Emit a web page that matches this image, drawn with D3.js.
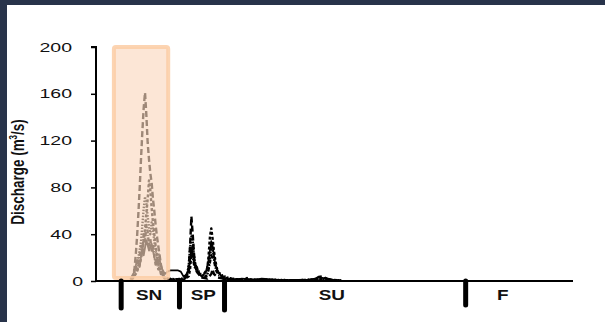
<!DOCTYPE html>
<html>
<head>
<meta charset="utf-8">
<script src="https://cdn.jsdelivr.net/npm/d3@7"></script>
<style>
  html, body { margin: 0; padding: 0; background: #28334a; }
  svg { display: block; }
</style>
</head>
<body>
<svg id="chart" width="605" height="322"></svg>
<script>
// Daily discharge, several hydrographs (day of water year, m³/s)
const daysA = [26, 28, 29, 30, 31, 32, 33, 34, 35, 36, 37, 38, 39, 40, 41, 42, 43, 44, 45, 46, 47, 48, 49, 50, 51, 52, 55, 60, 65, 68, 70, 71, 72, 73, 74, 75, 76, 78, 80, 84, 87, 88, 89, 92, 96, 100, 108, 116, 124, 135, 150, 165, 168, 171, 174, 180, 185];
const flowA = [1, 4, 10, 22, 38, 58, 80, 105, 128, 148, 161, 142, 118, 104, 92, 84, 70, 60, 48, 38, 30, 22, 14, 8, 4, 2, 1.5, 1, 1.5, 3, 12, 30, 55, 40, 22, 12, 8, 5, 3, 2, 6, 10, 6, 3, 2, 1, 1.2, 0.8, 1, 0.5, 0.6, 1, 3.5, 4, 2, 0.5, 0.3];

const daysB = [27, 30, 33, 35, 37, 39, 40, 41, 42, 43, 44, 45, 46, 47, 48, 50, 52, 56, 62, 66, 70, 71, 72, 73, 74, 76, 80, 84, 85, 86, 87, 88, 89, 90, 91, 92, 94, 97, 100, 106, 112, 114, 117, 125, 140, 160, 170, 173, 178, 185];
const flowB = [1, 6, 14, 25, 45, 70, 86, 78, 62, 50, 40, 30, 22, 16, 10, 5, 2, 1.5, 1, 1, 4, 10, 25, 30, 18, 8, 4, 10, 22, 38, 45, 36, 26, 18, 12, 8, 5, 3, 2, 1.5, 1.2, 2.5, 1.2, 0.8, 0.5, 0.5, 1.5, 2.5, 1, 0.3];

const daysC = [26, 29, 31, 33, 35, 36, 38, 40, 42, 44, 46, 48, 50, 52, 54, 56, 58, 62, 64, 66, 68, 70, 71, 72, 73, 74, 76, 78, 80, 83, 85, 86, 87, 88, 89, 90, 92, 94, 96, 98, 100, 105, 110, 115, 120, 125, 130, 140, 150, 160, 165, 168, 172, 176, 180, 185];
const flowC = [2, 8, 18, 12, 30, 22, 35, 26, 32, 20, 14, 18, 10, 6, 8, 9, 9, 9, 8, 4, 5, 10, 18, 28, 24, 16, 10, 6, 4, 8, 18, 26, 34, 30, 22, 14, 8, 5, 3, 2, 1.5, 1, 2, 1.5, 1, 2, 1.5, 0.8, 1, 1, 2, 3, 2.5, 1.5, 0.5, 0.5];

const daysD = [27, 30, 32, 34, 35, 36, 37, 38, 39, 40, 41, 42, 43, 44, 45, 46, 47, 48, 49, 50, 52, 55, 60, 66, 69, 70, 71, 72, 73, 74, 75, 77, 79, 82, 84, 85, 86, 87, 88, 89, 90, 92, 95, 99, 105, 115, 130, 150, 170, 185];
const flowD = [2, 10, 20, 34, 48, 62, 72, 66, 55, 46, 40, 50, 44, 34, 26, 20, 24, 16, 10, 6, 3, 2, 1.5, 2, 6, 14, 28, 38, 34, 22, 14, 9, 6, 4, 6, 12, 20, 30, 26, 20, 14, 8, 5, 3, 1.5, 1, 1.2, 0.6, 1.5, 0.4];

const daysE = [28, 30, 31, 33, 34, 35, 36, 37, 38, 39, 40, 41, 42, 43, 44, 45, 46, 47, 48, 49, 50, 51, 53, 57, 63, 67, 70, 71, 72, 73, 74, 75, 76, 78, 80, 82, 84, 85, 86, 87, 88, 89, 90, 91, 93, 96, 100, 110, 125, 150, 185];
const flowE = [3, 12, 8, 22, 30, 24, 40, 34, 48, 42, 30, 36, 26, 30, 22, 14, 18, 10, 12, 6, 8, 4, 2, 1.5, 1.5, 2.5, 8, 16, 22, 20, 14, 10, 12, 6, 4, 3, 5, 10, 16, 22, 20, 18, 12, 8, 5, 3, 2, 1, 1, 0.5, 0.3];

// Season boundaries and labels
const seasonBreaks = [19, 63, 97, 279];
const seasonNames = ["SN", "SP", "SU", "F"];
const seasonCenters = [40, 81, 178, 307];

// Snowmelt window highlight
const snowWindow = [13.5, 54.5];

const yTicks = [0, 40, 80, 120, 160, 200];

const svg = d3.select("#chart");

// white panel inside the dark frame
svg.append("rect").attr("x", 7).attr("y", 5).attr("width", 598).attr("height", 317).attr("fill", "#ffffff");

const x = d3.scaleLinear().domain([0, 360]).range([96, 573]);
const y = d3.scaleLinear().domain([0, 200]).range([281, 47]);

const line = d3.line().x(d => x(d[0])).y(d => y(d[1]));

const series = [
  { days: daysE, flow: flowE, dash: "4,1.5,1,1.5", width: 2.4 },
  { days: daysD, flow: flowD, dash: "1.5,1.5", width: 2.4 },
  { days: daysC, flow: flowC, dash: null, width: 1.8 },
  { days: daysB, flow: flowB, dash: "3,2", width: 2.4 },
  { days: daysA, flow: flowA, dash: "6,3", width: 2.4 }
];

series.forEach(s => {
  svg.append("path")
    .datum(s.days.map((d, i) => [d, s.flow[i]]))
    .attr("d", line)
    .attr("fill", "none")
    .attr("stroke", "#000")
    .attr("stroke-width", s.width)
    .attr("stroke-dasharray", s.dash)
    .attr("stroke-linejoin", "round");
});

// translucent snowmelt band drawn over the hydrographs
svg.append("rect")
  .attr("x", x(snowWindow[0]))
  .attr("y", y(200))
  .attr("width", x(snowWindow[1]) - x(snowWindow[0]))
  .attr("height", y(2.5) - y(200))
  .attr("rx", 2)
  .attr("fill", "rgb(251,216,190)")
  .attr("fill-opacity", 0.63)
  .attr("stroke", "rgb(252,204,164)")
  .attr("stroke-opacity", 0.85)
  .attr("stroke-width", 4);

// y axis
const yAxis = d3.axisLeft(y).tickValues(yTicks).tickSize(5).tickFormat("");
const gy = svg.append("g").attr("transform", `translate(${x(0)},0)`).call(yAxis);
gy.select(".domain").attr("stroke", "#000").attr("stroke-width", 2).attr("d", `M-5,${y(200)}H0V${y(0)}`);
gy.selectAll(".tick line").attr("stroke", "#000").attr("stroke-width", 1.5);

// tick labels, stretched horizontally
yTicks.forEach(v => {
  const right = v === 0 ? 83 : 72;
  svg.append("text")
    .attr("transform", `translate(${right},${y(v) + 4.5}) scale(1.5,1)`)
    .attr("text-anchor", "end")
    .attr("font-family", "Liberation Sans, Arial, sans-serif")
    .attr("font-size", 13)
    .attr("fill", "#111")
    .text(v);
});

// x axis baseline
svg.append("line")
  .attr("x1", x(0)).attr("x2", x(360))
  .attr("y1", y(0)).attr("y2", y(0))
  .attr("stroke", "#000").attr("stroke-width", 2);

// season dividers
const barEnds = [308, 307, 310, 305];
seasonBreaks.forEach((d, i) => {
  svg.append("line")
    .attr("x1", x(d)).attr("x2", x(d))
    .attr("y1", y(0)).attr("y2", barEnds[i])
    .attr("stroke", "#000").attr("stroke-width", 5)
    .attr("stroke-linecap", "round");
});

seasonNames.forEach((name, i) => {
  svg.append("text")
    .attr("transform", `translate(${x(seasonCenters[i])},300) scale(1.35,1)`)
    .attr("text-anchor", "middle")
    .attr("font-family", "Liberation Sans, Arial, sans-serif")
    .attr("font-weight", "bold")
    .attr("font-size", 14)
    .attr("fill", "#111")
    .text(name);
});

// y axis title
const title = svg.append("text")
  .attr("transform", "translate(24,172) scale(1.4,1) rotate(-90)")
  .attr("text-anchor", "middle")
  .attr("font-family", "Liberation Sans, Arial, sans-serif")
  .attr("font-weight", "bold")
  .attr("font-size", 13.5)
  .attr("fill", "#111");
title.append("tspan").text("Discharge (m");
title.append("tspan").attr("font-size", 8).attr("dy", -5).text("3");
title.append("tspan").attr("dy", 5).text("/s)");
</script>
</body>
</html>
